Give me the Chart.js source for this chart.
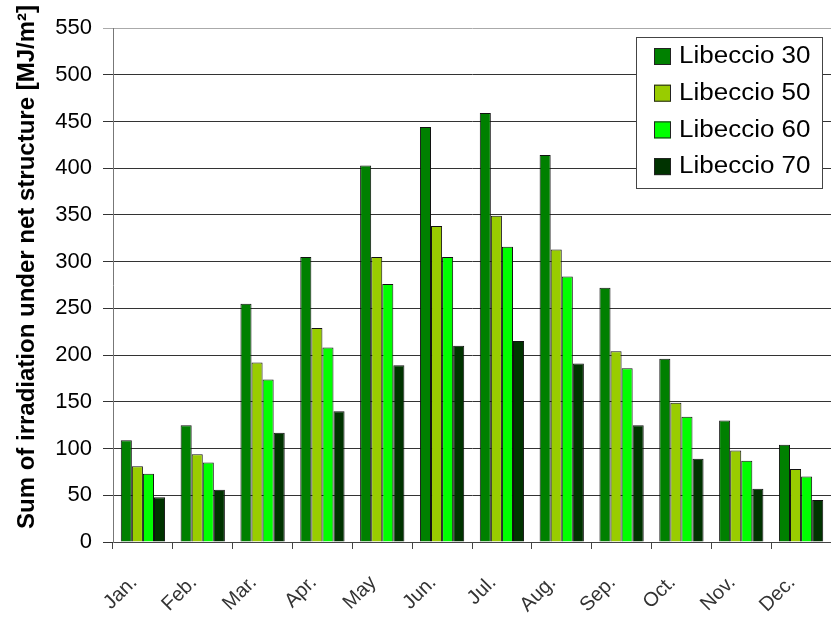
<!DOCTYPE html>
<html>
<head>
<meta charset="utf-8">
<script src="https://cdn.jsdelivr.net/npm/chart.js@4.4.0/dist/chart.umd.min.js"></script>
<style>
  html, body { margin: 0; padding: 0; background: #fff; }
</style>
</head>
<body>
<canvas id="chartIrr" width="831" height="620"></canvas>
<script>
const months = ['Jan.', 'Feb.', 'Mar.', 'Apr.', 'May', 'Jun.', 'Jul.', 'Aug.', 'Sep.', 'Oct.', 'Nov.', 'Dec.'];
const libeccio30 = [109, 125, 255, 305, 403, 444, 459, 414, 272, 196, 130, 104];
const libeccio50 = [81, 94, 192, 229, 305, 338, 349, 313, 204, 149, 98, 78];
const libeccio60 = [73, 85, 174, 208, 276, 305, 316, 284, 186, 134, 87, 70];
const libeccio70 = [48, 56, 117, 140, 189, 210, 215, 191, 125, 89, 57, 45];
const yTicks = [0, 50, 100, 150, 200, 250, 300, 350, 400, 450, 500, 550];
const yTitle = 'Sum of irradiation under net structure [MJ/m²]';

const font = "'Liberation Sans', Arial, sans-serif";

function serie(label, data, color) {
  return {
    label: label,
    data: data,
    backgroundColor: color,
    borderColor: '#111',
    borderWidth: 1,
    borderSkipped: 'bottom',
    categoryPercentage: 0.74,
    barPercentage: 1.0
  };
}

// legend as a framed box inside the plot (top right) + vertical axis title
const extras = {
  id: 'extras',
  afterDraw(chart) {
    const ctx = chart.ctx;
    const area = chart.chartArea;

    ctx.save();
    ctx.translate(27, (area.top + area.bottom) / 2 - 18);
    ctx.rotate(-Math.PI / 2);
    ctx.font = 'bold 24px ' + font;
    ctx.fillStyle = '#000';
    ctx.textAlign = 'center';
    ctx.textBaseline = 'middle';
    ctx.fillText(yTitle, 0, 0);
    ctx.restore();

    const w = 186, h = 151;
    const x = area.right - w - 9, y = area.top + 9;
    ctx.save();
    ctx.fillStyle = '#fff';
    ctx.fillRect(x, y, w, h);
    ctx.strokeStyle = '#444';
    ctx.lineWidth = 1;
    ctx.strokeRect(x + 0.5, y + 0.5, w, h);
    ctx.textBaseline = 'middle';
    chart.data.datasets.forEach((ds, i) => {
      const sy = y + 11 + i * 36.7;
      ctx.fillStyle = ds.backgroundColor;
      ctx.fillRect(x + 18, sy, 17, 17);
      ctx.strokeStyle = '#222';
      ctx.strokeRect(x + 18.5, sy + 0.5, 16, 16);
      ctx.save();
      ctx.translate(x + 43, sy + 9);
      ctx.scale(1.13, 1);
      ctx.font = '23px ' + font;
      ctx.fillStyle = '#000';
      ctx.fillText(ds.label, 0, 0);
      ctx.restore();
    });
    ctx.restore();
  }
};

new Chart(document.getElementById('chartIrr'), {
  type: 'bar',
  data: {
    labels: months,
    datasets: [
      serie('Libeccio 30', libeccio30, '#008000'),
      serie('Libeccio 50', libeccio50, '#99cc00'),
      serie('Libeccio 60', libeccio60, '#00ff00'),
      serie('Libeccio 70', libeccio70, '#003300')
    ]
  },
  options: {
    responsive: false,
    animation: false,
    devicePixelRatio: 1,
    layout: { padding: { top: 28, right: 0, bottom: 0, left: 4 } },
    plugins: {
      legend: { display: false },
      tooltip: { enabled: false }
    },
    scales: {
      x: {
        offset: true,
        grid: {
          offset: true,
          drawOnChartArea: false,
          drawTicks: true,
          tickLength: 7,
          color: '#444'
        },
        border: { color: '#444', width: 1 },
        ticks: {
          minRotation: 45,
          maxRotation: 45,
          padding: 22,
          labelOffset: -9,
          color: '#333',
          font: { family: font, size: 20 }
        },
        afterFit(scale) {
          scale.height = 78;
          scale.paddingLeft = 0;
          scale.paddingRight = 0;
        }
      },
      y: {
        min: 0,
        max: 550,
        afterBuildTicks(scale) { scale.ticks = yTicks.map(v => ({ value: v })); },
        grid: {
          color: ctx => (ctx.tick && ctx.tick.value === 550) ? '#aaa' : '#333',
          lineWidth: 1,
          drawTicks: true,
          tickLength: 10
        },
        border: { color: '#777', width: 1 },
        ticks: {
          padding: 11,
          color: '#000',
          font: { family: font, size: 22 }
        },
        afterFit(scale) { scale.width = 109; }
      }
    }
  },
  plugins: [extras]
});
</script>
</body>
</html>
